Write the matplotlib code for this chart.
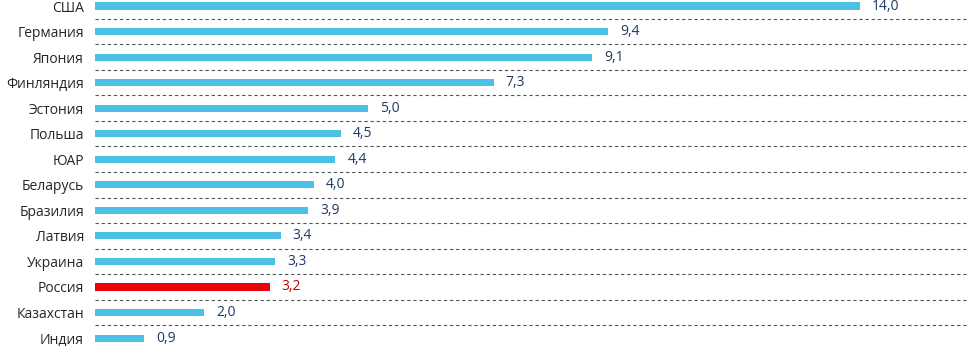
import matplotlib
matplotlib.use("Agg")
import matplotlib.pyplot as plt

countries = ["США", "Германия", "Япония", "Финляндия", "Эстония", "Польша", "ЮАР",
             "Беларусь", "Бразилия", "Латвия", "Украина", "Россия", "Казахстан", "Индия"]
values = [14.0, 9.4, 9.1, 7.3, 5.0, 4.5, 4.4, 4.0, 3.9, 3.4, 3.3, 3.2, 2.0, 0.9]
highlight = "Россия"

plt.rcParams["font.family"] = ["Open Sans", "DejaVu Sans"]

fig = plt.figure(figsize=(9.69, 3.46), dpi=100)
ax = fig.add_axes([95 / 969, 0, 1 - 95 / 969, 1])

y = list(range(len(countries)))
colors = ["#E8000B" if c == highlight else "#4DC0E6" for c in countries]
ax.barh(y, values, height=0.28, color=colors, zorder=3)

# dashed separators between rows
for i in range(len(countries) - 1):
    ax.axhline(i + 0.5, color="#555555", linestyle=(0, (3, 2.5)), linewidth=0.8, zorder=1)

for yi, v, c in zip(y, values, countries):
    col = "#C00000" if c == highlight else "#1F3864"
    ax.text(v + 0.22, yi, f"{v:.1f}".replace(".", ","), va="center", ha="left",
            fontsize=10, color=col)

ax.set_xlim(0, 16)
ax.set_ylim(13.31, -0.235)
ax.set_yticks(y)
ax.set_yticklabels(countries, fontsize=10, color="#262626")
ax.tick_params(axis="y", length=0, pad=8)
ax.set_xticks([])
for s in ax.spines.values():
    s.set_visible(False)

fig.savefig("out.png", dpi=100)
